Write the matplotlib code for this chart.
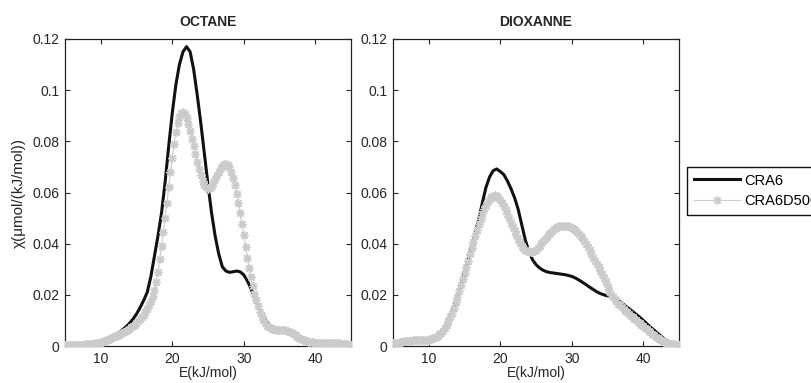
import matplotlib
matplotlib.use('Agg')
import matplotlib.pyplot as plt
import numpy as np

plt.rcParams['font.family'] = ['Liberation Sans', 'DejaVu Sans']

# energy grids (kJ/mol)
e_black = np.arange(5, 45.01, 0.5)
e_gray = np.arange(5, 45.01, 0.25)

octane_cra6 = [
    0.0005, 0.0005, 0.0005, 0.0005, 0.0005, 0.0005, 0.0006, 0.0007, 0.0009, 0.0012,
    0.0016, 0.0021, 0.0027, 0.0034, 0.0042, 0.0052, 0.0062, 0.0074, 0.0088, 0.0105,
    0.0125, 0.0150, 0.0178, 0.0210, 0.0270, 0.0350, 0.0430, 0.0520, 0.0640, 0.0780,
    0.0910, 0.1020, 0.1100, 0.1150, 0.1170, 0.1150, 0.1080, 0.0980, 0.0870, 0.0750,
    0.0630, 0.0520, 0.0430, 0.0360, 0.0310, 0.0293, 0.0288, 0.0290, 0.0293, 0.0290,
    0.0278, 0.0255, 0.0225, 0.0190, 0.0155, 0.0125, 0.0102, 0.0085, 0.0074, 0.0067,
    0.0063, 0.0062, 0.0060, 0.0055, 0.0046, 0.0037, 0.0029, 0.0022, 0.0017, 0.0015,
    0.0013, 0.0013, 0.0012, 0.0012, 0.0012, 0.0012, 0.0011, 0.0010, 0.0008, 0.0006,
    0.0004,
]

octane_cra6d500 = [
    0.0005, 0.0005, 0.0005, 0.0005, 0.0005, 0.0005, 0.0005, 0.0005, 0.0005, 0.0005,
    0.0005, 0.0006, 0.0006, 0.0007, 0.0007, 0.0008, 0.0009, 0.0010, 0.0012, 0.0013,
    0.0015, 0.0017, 0.0020, 0.0022, 0.0025, 0.0028, 0.0031, 0.0035, 0.0038, 0.0041,
    0.0044, 0.0047, 0.0050, 0.0054, 0.0059, 0.0063, 0.0068, 0.0073, 0.0079, 0.0084,
    0.0090, 0.0097, 0.0104, 0.0112, 0.0122, 0.0133, 0.0145, 0.0160, 0.0175, 0.0195,
    0.0220, 0.0250, 0.0290, 0.0340, 0.0390, 0.0445, 0.0500, 0.0560, 0.0620, 0.0680,
    0.0735, 0.0790, 0.0835, 0.0870, 0.0895, 0.0910, 0.0916, 0.0908, 0.0890, 0.0866,
    0.0840, 0.0810, 0.0780, 0.0750, 0.0720, 0.0692, 0.0667, 0.0646, 0.0630, 0.0620,
    0.0615, 0.0617, 0.0625, 0.0637, 0.0652, 0.0667, 0.0682, 0.0695, 0.0705, 0.0711,
    0.0713, 0.0709, 0.0698, 0.0680, 0.0657, 0.0628, 0.0595, 0.0558, 0.0518, 0.0475,
    0.0432, 0.0388, 0.0345, 0.0305, 0.0268, 0.0235, 0.0205, 0.0178, 0.0155, 0.0134,
    0.0116, 0.0100, 0.0088, 0.0079, 0.0073, 0.0069, 0.0066, 0.0065, 0.0064, 0.0064,
    0.0063, 0.0063, 0.0062, 0.0061, 0.0060, 0.0058, 0.0055, 0.0051, 0.0046, 0.0042,
    0.0037, 0.0033, 0.0029, 0.0025, 0.0022, 0.0019, 0.0017, 0.0016, 0.0015, 0.0014,
    0.0013, 0.0013, 0.0013, 0.0012, 0.0012, 0.0012, 0.0012, 0.0012, 0.0012, 0.0012,
    0.0012, 0.0011, 0.0011, 0.0011, 0.0010, 0.0009, 0.0008, 0.0007, 0.0006, 0.0005,
    0.0004,
]

dioxanne_cra6 = [
    0.0010, 0.0012, 0.0015, 0.0018, 0.0020, 0.0021, 0.0022, 0.0022, 0.0023, 0.0024,
    0.0026, 0.0030, 0.0037, 0.0047, 0.0062, 0.0085, 0.0115, 0.0152, 0.0195, 0.0242,
    0.0290, 0.0340, 0.0390, 0.0440, 0.0495, 0.0560, 0.0620, 0.0660, 0.0685, 0.0692,
    0.0682, 0.0670, 0.0645, 0.0615, 0.0580, 0.0535, 0.0475, 0.0415, 0.0370, 0.0338,
    0.0318, 0.0305, 0.0296, 0.0290, 0.0287, 0.0285, 0.0283, 0.0281, 0.0279, 0.0276,
    0.0272, 0.0266, 0.0258, 0.0249, 0.0240, 0.0230, 0.0221, 0.0212, 0.0205, 0.0200,
    0.0196, 0.0193, 0.0188, 0.0180, 0.0168, 0.0157, 0.0146, 0.0135, 0.0124, 0.0113,
    0.0100, 0.0087, 0.0074, 0.0062, 0.0050, 0.0038, 0.0027, 0.0018, 0.0011, 0.0007,
    0.0005,
]

dioxanne_cra6d500 = [
    0.0010, 0.0011, 0.0012, 0.0013, 0.0015, 0.0016, 0.0018, 0.0019, 0.0020, 0.0021,
    0.0021, 0.0022, 0.0022, 0.0022, 0.0022, 0.0022, 0.0022, 0.0022, 0.0023, 0.0024,
    0.0025, 0.0027, 0.0030, 0.0033, 0.0037, 0.0041, 0.0046, 0.0052, 0.0060, 0.0070,
    0.0082, 0.0096, 0.0112, 0.0130, 0.0150, 0.0171, 0.0193, 0.0215, 0.0238, 0.0262,
    0.0286, 0.0310, 0.0334, 0.0358, 0.0382, 0.0406, 0.0430, 0.0453, 0.0475, 0.0496,
    0.0516, 0.0535, 0.0551, 0.0565, 0.0576, 0.0584, 0.0588, 0.0589, 0.0586, 0.0580,
    0.0571, 0.0560, 0.0547, 0.0532, 0.0516, 0.0499, 0.0482, 0.0465, 0.0448, 0.0432,
    0.0417, 0.0403, 0.0391, 0.0382, 0.0375, 0.0371, 0.0369, 0.0368, 0.0369, 0.0372,
    0.0377, 0.0384, 0.0392, 0.0401, 0.0410, 0.0419, 0.0428, 0.0436, 0.0443, 0.0450,
    0.0456, 0.0461, 0.0465, 0.0468, 0.0470, 0.0471, 0.0471, 0.0470, 0.0468, 0.0465,
    0.0461, 0.0457, 0.0452, 0.0446, 0.0439, 0.0431, 0.0422, 0.0411, 0.0400, 0.0388,
    0.0375, 0.0360, 0.0345, 0.0333, 0.0320, 0.0308, 0.0295, 0.0280, 0.0265, 0.0249,
    0.0232, 0.0216, 0.0200, 0.0190, 0.0182, 0.0174, 0.0166, 0.0159, 0.0152, 0.0145,
    0.0138, 0.0131, 0.0125, 0.0118, 0.0112, 0.0106, 0.0100, 0.0094, 0.0089, 0.0083,
    0.0077, 0.0071, 0.0065, 0.0059, 0.0053, 0.0047, 0.0042, 0.0037, 0.0032, 0.0027,
    0.0023, 0.0019, 0.0015, 0.0012, 0.0010, 0.0008, 0.0007, 0.0006, 0.0005, 0.0005,
    0.0005,
]

titles = ['OCTANE', 'DIOXANNE']
series_names = ['CRA6', 'CRA6D500']
y_ticks = [0, 0.02, 0.04, 0.06, 0.08, 0.1, 0.12]
y_ticklabels = ['0', '0.02', '0.04', '0.06', '0.08', '0.1', '0.12']
x_ticks = [10, 20, 30, 40]

text_color = '#262626'
gray = '#cbcbcb'
asterisk = (8, 2, 0)

fig = plt.figure(figsize=(8.12, 3.83), dpi=100, facecolor='white')
ax1 = fig.add_axes([65 / 812, 37 / 383, 286 / 812, 307 / 383])
ax2 = fig.add_axes([393 / 812, 37 / 383, 286 / 812, 307 / 383])

data = [(octane_cra6, octane_cra6d500), (dioxanne_cra6, dioxanne_cra6d500)]

for ax, title, (black, light) in zip([ax1, ax2], titles, data):
    h1, = ax.plot(e_black, black, color='#111111', linewidth=2.2, zorder=2,
                  label=series_names[0])
    h2, = ax.plot(e_gray, light, color=gray, linewidth=0.8, marker=asterisk,
                  markersize=6, markeredgewidth=1.0, markeredgecolor=gray,
                  zorder=3, label=series_names[1])
    ax.set_xlim(5, 45)
    ax.set_ylim(0, 0.12)
    ax.set_xticks(x_ticks)
    ax.set_yticks(y_ticks)
    ax.set_yticklabels(y_ticklabels)
    ax.tick_params(direction='in', length=3.5, width=0.8, top=True, right=True,
                   labelsize=10, colors=text_color, pad=4)
    for s in ax.spines.values():
        s.set_linewidth(0.9)
        s.set_color('#222222')
    ax.set_title(title, fontsize=10, fontweight='bold', color=text_color, pad=9)
    ax.set_xlabel('E(kJ/mol)', fontsize=10, color=text_color, labelpad=0)

ax1.set_ylabel('χ(μmol/(kJ/mol))', fontsize=11, color=text_color, labelpad=5)

fig.legend(handles=[h1, h2], loc='upper left', bbox_to_anchor=(687 / 812, 1 - 167 / 383),
           fontsize=10.5, frameon=True, fancybox=False, framealpha=1, edgecolor='#111111',
           handlelength=3.2, handletextpad=0.3, borderpad=0.45, labelspacing=0.45,
           borderaxespad=0)

fig.savefig('out.png', dpi=100, facecolor='white')
